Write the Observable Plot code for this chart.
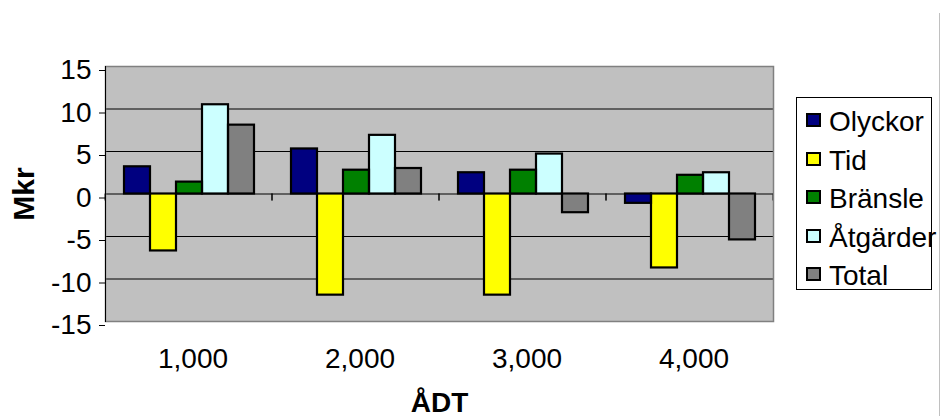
<!DOCTYPE html>
<html>
<head>
<meta charset="utf-8">
<script src="https://cdn.jsdelivr.net/npm/d3@7"></script>
<script src="https://cdn.jsdelivr.net/npm/@observablehq/plot@0.6"></script>
<style>
  html, body { margin: 0; padding: 0; background: #fff; }
  #wrap { position: relative; width: 941px; height: 416px; overflow: hidden; font-family: "Liberation Sans", Arial, sans-serif; }
  #wrap svg { position: absolute; left: 0; top: 0; }
  [aria-label="y-axis label"] text { font-weight: bold; font-size: 30px !important; }
  [aria-label="fx-axis label"] text { font-weight: bold; font-size: 28px !important; }
  #legend { position: absolute; left: 796px; top: 97px; width: 136px; height: 193px; border: 1px solid #000; background: #fff; box-sizing: border-box; padding-top: 3px; overflow: visible; }
  #legend .row { height: 38.5px; display: flex; align-items: center; white-space: nowrap; }
  #legend .sw { width: 15px; height: 14px; border: 2px solid #000; box-sizing: border-box; margin-left: 9px; margin-right: 8px; flex: none; }
  #legend .lbl { font-size: 28px; line-height: 1; position: relative; top: 2px; color: #000; }
  #edge { position: absolute; left: 939px; top: 13px; width: 0; height: 403px; border-left: 1px solid #c0c0c0; }
</style>
</head>
<body>
<div id="wrap"></div>
<script>
// --- data ---
const adt = [1000, 2000, 3000, 4000];
const series = ["Olyckor", "Tid", "Bränsle", "Åtgärder", "Total"];
const olyckor = [3.2, 5.3, 2.5, -1.1];
const tid = [-6.7, -11.9, -11.9, -8.7];
const bransle = [1.4, 2.8, 2.8, 2.2];
const atgarder = [10.5, 6.9, 4.7, 2.5];
const total = [8.1, 3.0, -2.2, -5.4];
const colors = ["#000080", "#FFFF00", "#008000", "#CCFFFF", "#808080"];
const yTicks = [-15, -10, -5, 0, 5, 10, 15];
const gridValues = [-10, -5, 5, 10];

const valuesBySeries = [olyckor, tid, bransle, atgarder, total];
const data = [];
adt.forEach((a, i) => {
  series.forEach((s, j) => data.push({adt: a, series: s, value: valuesBySeries[j][i]}));
});

// small ticks hanging below the zero line at category boundaries
function boundaryTicks(index, scales) {
  const {x, y} = scales;
  const r = x.range();
  const y0 = y(0);
  const g = d3.create("svg:g");
  for (const xx of [r[0], r[1]]) {
    g.append("line").attr("x1", xx).attr("x2", xx).attr("y1", y0).attr("y2", y0 + 7)
      .attr("stroke", "black").attr("stroke-width", 1);
  }
  return g.node();
}

const chart = Plot.plot({
  width: 941,
  height: 416,
  marginLeft: 104,
  marginRight: 167,
  marginTop: 66,
  marginBottom: 95,
  style: {fontFamily: "'Liberation Sans', Arial, sans-serif"},
  fx: {domain: adt, padding: 0, label: "ÅDT", tickFormat: d3.format(",")},
  x: {domain: series, paddingInner: 0, paddingOuter: 0.685, axis: null},
  y: {domain: [-15, 15], label: "Mkr"},
  color: {domain: series, range: colors},
  marks: [
    Plot.frame({facet: "super", fill: "#C0C0C0", stroke: null}),
    Plot.ruleY(gridValues, {stroke: "black", strokeWidth: 1}),
    Plot.ruleY([0], {stroke: "black", strokeWidth: 1}),
    boundaryTicks,
    Plot.barY(data, {fx: "adt", x: "series", y: "value", fill: "series"}),
    Plot.barY(data, {fx: "adt", x: "series", y: "value", fill: "none", stroke: "#000000", strokeWidth: 2.2, strokeOpacity: 1}),
    Plot.frame({facet: "super", stroke: "#808080", strokeWidth: 1.5}),
    Plot.frame({facet: "super", anchor: "left", stroke: "black", strokeWidth: 1}),
    Plot.axisY({ticks: yTicks, tickSize: 6, tickPadding: 8, fontSize: 28, dy: 4, stroke: "black",
      tickFormat: d => String(d),
      label: "Mkr", labelAnchor: "center", labelArrow: "none", labelOffset: 93}),
    Plot.axisFx({anchor: "bottom", tickSize: 0, tickPadding: 27, fontSize: 28, dx: 4,
      tickFormat: d3.format(","), label: "ÅDT", labelAnchor: "center", labelArrow: "none", labelOffset: 90})
  ]
});

const wrap = document.getElementById("wrap");
wrap.appendChild(chart);

const edge = document.createElement("div");
edge.id = "edge";
wrap.appendChild(edge);

// legend built from the series and colour arrays
const legend = d3.select(wrap).append("div").attr("id", "legend");
series.forEach((s, i) => {
  const row = legend.append("div").attr("class", "row");
  row.append("div").attr("class", "sw").style("background", colors[i]);
  row.append("span").attr("class", "lbl").text(s);
});
</script>
</body>
</html>
